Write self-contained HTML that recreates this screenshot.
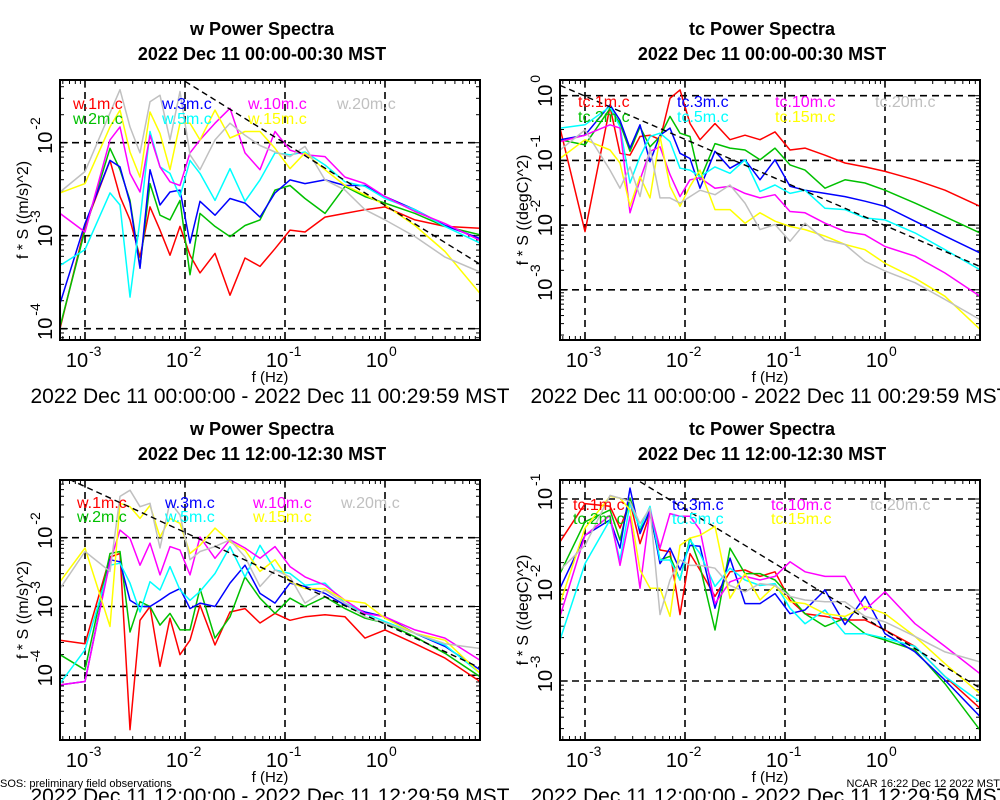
<!DOCTYPE html>
<html><head><meta charset="utf-8">
<style>
html,body{margin:0;padding:0;background:#fff;}
svg{display:block;font-family:"Liberation Sans",Arial,sans-serif;}
</style></head>
<body>
<svg id="chart" width="1000" height="800" viewBox="0 0 1000 800" xmlns="http://www.w3.org/2000/svg"></svg>
<script>
// shared log10 frequency bins (Hz)
const logFreq = [-3.25,-3.0,-2.75,-2.65,-2.55,-2.45,-2.35,-2.25,-2.15,-2.05,-1.95,-1.85,-1.7,-1.55,-1.4,-1.25,-1.1,-0.95,-0.8,-0.6,-0.4,-0.2,0,0.3,0.6,0.95];
const xTickExp = [-3,-2,-1,0];
const seriesColors = ["#ff0000","#00c000","#0000ff","#00ffff","#ff00ff","#ffff00","#c0c0c0"];
const heightsW = ["1m","2m","3m","5m","10m","15m","20m"];

// Panel 1: w 00:00 (log10 f*S)
const p1_1m = [-4.0,-2.9,-2.19,-2.58,-2.83,-3.23,-2.69,-2.94,-3.21,-2.9,-3.21,-3.4,-3.19,-3.64,-3.24,-3.33,-3.14,-2.94,-2.96,-2.8,-2.76,-2.72,-2.69,-2.83,-2.9,-2.92];
const p1_2m = [-3.98,-2.94,-2.06,-2.29,-2.62,-3.33,-2.44,-2.78,-2.83,-2.62,-3.42,-2.76,-2.9,-3.01,-2.89,-2.83,-2.51,-2.46,-2.6,-2.76,-2.47,-2.58,-2.65,-2.76,-2.9,-2.99];
const p1_3m = [-3.73,-2.87,-2.19,-2.26,-2.65,-3.35,-2.29,-2.67,-2.53,-2.51,-3.08,-2.63,-2.78,-2.6,-2.65,-2.8,-2.54,-2.4,-2.44,-2.4,-2.46,-2.46,-2.58,-2.72,-2.89,-3.03];
const p1_5m = [-3.32,-3.15,-2.54,-2.67,-3.66,-2.83,-1.88,-2.26,-2.33,-2.58,-2.19,-2.33,-2.62,-2.28,-2.63,-2.4,-2.11,-2.13,-2.1,-2.24,-2.42,-2.47,-2.6,-2.72,-2.9,-3.08];
const p1_10m = [-2.76,-2.96,-1.97,-1.83,-2.33,-2.53,-1.92,-2.26,-2.42,-2.46,-2.11,-1.97,-1.79,-1.63,-2.11,-2.29,-1.88,-2.08,-2.13,-2.15,-2.37,-2.44,-2.58,-2.74,-2.87,-3.05];
const p1_15m = [-2.54,-2.44,-1.83,-1.65,-2.1,-2.37,-1.67,-1.9,-2.29,-1.79,-1.79,-1.97,-1.65,-1.95,-1.88,-1.88,-2.06,-2.28,-2.11,-2.29,-2.46,-2.56,-2.67,-2.89,-3.17,-3.62];
const p1_20m = [-2.53,-2.31,-1.68,-1.43,-1.83,-2.11,-1.56,-1.49,-1.97,-1.45,-2.13,-2.29,-1.97,-1.79,-1.92,-2.03,-2.1,-2.15,-2.04,-2.4,-2.51,-2.72,-2.83,-3.01,-3.23,-3.39];

// Panel 2: tc 00:00
const p2_1m = [-0.5,-2.1,-0.17,-0.89,-0.92,-0.63,-0.61,-0.68,-0.04,0.09,-0.43,-0.68,-0.43,-0.68,-0.61,-0.68,-0.56,-0.84,-0.81,-0.92,-1.04,-1.1,-1.17,-1.3,-1.46,-1.71];
const p2_2m = [-0.68,-0.76,-0.2,-0.43,-0.86,-0.48,-0.79,-0.63,-0.32,-0.58,-0.63,-1.3,-0.74,-0.81,-0.84,-0.99,-0.81,-1.07,-1.15,-1.43,-1.3,-1.35,-1.46,-1.66,-1.87,-2.12];
const p2_3m = [-0.68,-0.61,-0.14,-0.38,-0.81,-0.45,-1.02,-0.61,-0.5,-0.89,-0.97,-1.43,-0.86,-1.12,-0.99,-1.3,-0.99,-1.4,-1.46,-1.51,-1.56,-1.63,-1.71,-1.94,-2.17,-2.43];
const p2_5m = [-0.5,-0.45,-0.17,-0.48,-1.35,-0.94,-0.63,-0.58,-0.71,-1.12,-1.15,-1.25,-1.1,-1.2,-0.99,-1.48,-1.38,-1.51,-1.46,-1.74,-1.76,-1.89,-1.92,-2.12,-2.38,-2.69];
const p2_10m = [-0.71,-0.61,-0.45,-0.5,-1.81,-1.3,-0.86,-0.79,-1.22,-1.56,-1.3,-1.27,-1.43,-1.4,-1.51,-1.58,-1.53,-1.79,-1.81,-1.97,-2.1,-2.15,-2.33,-2.48,-2.74,-3.1];
const p2_15m = [-0.97,-0.68,-0.84,-1.04,-1.71,-1.25,-1.58,-0.63,-1.4,-1.71,-1.4,-1.15,-1.76,-1.76,-1.97,-1.81,-1.94,-2.02,-2.07,-2.17,-2.3,-2.38,-2.59,-2.82,-3.1,-3.61];
const p2_20m = [-0.84,-0.53,-1.15,-1.43,-1.1,-1.56,-0.81,-1.58,-1.58,-1.66,-1.56,-1.46,-1.53,-1.38,-1.66,-2.07,-1.99,-2.25,-1.97,-2.23,-2.3,-2.56,-2.71,-2.89,-3.15,-3.46];

// Panel 3: w 12:00
const p3_1m = [-3.49,-3.54,-2.28,-2.23,-4.79,-3.2,-3.0,-3.87,-3.17,-3.7,-3.49,-2.98,-3.56,-3.08,-3.03,-3.24,-3.1,-3.2,-3.15,-3.12,-3.15,-3.46,-3.34,-3.54,-3.75,-4.09];
const p3_2m = [-3.7,-3.92,-2.23,-2.2,-3.37,-2.93,-3.0,-3.27,-3.1,-3.34,-3.34,-2.74,-3.46,-3.15,-2.57,-2.88,-3.1,-2.88,-3.0,-2.86,-3.03,-3.17,-3.24,-3.44,-3.68,-4.02];
const p3_3m = [-4.14,-4.09,-2.32,-2.35,-2.91,-3.0,-3.0,-2.91,-2.81,-2.74,-3.03,-2.95,-3.0,-2.66,-2.4,-2.81,-2.95,-2.66,-2.71,-2.81,-2.98,-3.08,-3.15,-3.39,-3.58,-3.92];
const p3_5m = [-4.12,-3.63,-2.4,-2.37,-2.66,-3.08,-2.64,-2.76,-2.42,-2.76,-2.91,-2.78,-2.52,-2.13,-2.57,-2.11,-2.47,-2.52,-2.69,-2.66,-2.95,-3.1,-3.22,-3.39,-3.56,-3.97];
const p3_10m = [-4.14,-4.09,-2.35,-1.89,-2.01,-2.4,-2.08,-2.54,-2.13,-2.18,-2.54,-1.99,-2.3,-2.03,-2.15,-2.3,-2.13,-2.42,-2.57,-2.69,-2.91,-3.1,-3.15,-3.34,-3.46,-3.78];
const p3_15m = [-2.64,-2.15,-3.29,-1.5,-1.55,-1.72,-1.53,-1.99,-1.72,-1.79,-2.23,-2.11,-1.86,-2.06,-2.18,-2.49,-2.32,-2.64,-2.74,-2.74,-2.91,-2.95,-3.17,-3.39,-3.49,-3.97];
const p3_20m = [-2.74,-2.2,-2.49,-1.4,-1.31,-1.55,-1.5,-2.15,-1.48,-1.67,-2.32,-2.2,-2.13,-2.03,-2.28,-2.71,-2.47,-2.57,-2.95,-2.76,-2.95,-3.15,-3.24,-3.39,-3.54,-3.61];

// Panel 4: tc 12:00
const p4_1m = [-1.47,-1.05,-1.08,-1.32,-1.03,-1.49,-1.16,-1.56,-1.58,-2.27,-1.6,-1.78,-2.07,-1.8,-1.78,-1.85,-1.8,-2.11,-2.26,-2.29,-2.33,-2.33,-2.44,-2.62,-2.95,-3.3];
const p4_2m = [-1.82,-1.25,-1.12,-1.45,-0.99,-1.34,-1.16,-1.67,-1.63,-1.89,-1.43,-1.74,-2.44,-1.54,-1.82,-1.82,-1.89,-2.07,-2.26,-2.4,-2.31,-2.48,-2.55,-2.66,-3.03,-3.54];
const p4_3m = [-1.98,-1.4,-1.23,-1.54,-0.88,-1.38,-1.12,-1.71,-1.54,-1.78,-1.51,-1.52,-2.2,-1.65,-2.15,-2.15,-2.04,-2.26,-2.22,-2.0,-2.38,-2.07,-2.48,-2.68,-2.99,-3.39];
const p4_5m = [-2.55,-1.71,-1.23,-1.67,-1.05,-1.32,-1.08,-1.67,-1.67,-1.89,-1.45,-1.6,-1.96,-1.76,-1.89,-1.95,-1.93,-2.2,-2.37,-2.22,-2.48,-2.48,-2.53,-2.62,-2.95,-3.23];
const p4_10m = [-2.29,-1.4,-1.18,-1.73,-1.19,-1.98,-1.12,-1.54,-1.16,-1.19,-1.19,-1.34,-2.15,-1.91,-1.85,-1.89,-1.85,-1.69,-1.8,-1.85,-1.85,-2.22,-2.02,-2.37,-2.62,-2.92];
const p4_15m = [-2.15,-1.32,-0.97,-0.99,-1.12,-1.78,-1.98,-1.98,-2.29,-1.51,-1.43,-1.4,-1.3,-2.09,-1.82,-2.11,-1.95,-2.13,-2.15,-2.26,-2.29,-2.18,-2.26,-2.51,-2.81,-3.14];
const p4_20m = [-1.78,-1.51,-0.96,-0.99,-1.03,-1.27,-1.1,-2.27,-1.89,-1.67,-1.73,-1.73,-1.76,-1.95,-2.02,-1.93,-1.95,-2.07,-2.11,-2.13,-2.13,-2.29,-2.35,-2.51,-2.68,-2.79];

// reference -2/3 slope lines: [start log f, log y at start]
const p1_ref = [-2.0,-1.34];
const p2_ref = [-3.25,0.16];
const p3_ref = [-3.25,-1.09];
const p4_ref = [-2.45,-0.81];
const refSlope = -2/3;

const panels = [
 {id:"w-am", v:"w", x0:60,x1:480,y0:80,y1:340, yRefLog:-2, yRefPx:142.7, pxDec:93, yTicks:[-2,-3,-4],
  title:"w Power Spectra", sub:"2022 Dec 11 00:00-00:30 MST", ylab:"f * S ((m/s)^2)",
  range:"2022 Dec 11 00:00:00 - 2022 Dec 11 00:29:59 MST", data:[p1_1m,p1_2m,p1_3m,p1_5m,p1_10m,p1_15m,p1_20m], ref:p1_ref,
  leg:[73,162,248,337], legY:[109,124]},
 {id:"tc-am", v:"tc", x0:560,x1:980,y0:80,y1:340, yRefLog:0, yRefPx:95.7, pxDec:64.7, yTicks:[0,-1,-2,-3],
  title:"tc Power Spectra", sub:"2022 Dec 11 00:00-00:30 MST", ylab:"f * S ((degC)^2)",
  range:"2022 Dec 11 00:00:00 - 2022 Dec 11 00:29:59 MST", data:[p2_1m,p2_2m,p2_3m,p2_5m,p2_10m,p2_15m,p2_20m], ref:p2_ref,
  leg:[578,677,775,875], legY:[107,122]},
 {id:"w-pm", v:"w", x0:60,x1:480,y0:480,y1:740, yRefLog:-2, yRefPx:537.7, pxDec:68.8, yTicks:[-2,-3,-4],
  title:"w Power Spectra", sub:"2022 Dec 11 12:00-12:30 MST", ylab:"f * S ((m/s)^2)",
  range:"2022 Dec 11 12:00:00 - 2022 Dec 11 12:29:59 MST", data:[p3_1m,p3_2m,p3_3m,p3_5m,p3_10m,p3_15m,p3_20m], ref:p3_ref,
  leg:[77,165,253,341], legY:[508,522]},
 {id:"tc-pm", v:"tc", x0:560,x1:980,y0:480,y1:740, yRefLog:-1, yRefPx:499, pxDec:91, yTicks:[-1,-2,-3],
  title:"tc Power Spectra", sub:"2022 Dec 11 12:00-12:30 MST", ylab:"f * S ((degC)^2)",
  range:"2022 Dec 11 12:00:00 - 2022 Dec 11 12:29:59 MST", data:[p4_1m,p4_2m,p4_3m,p4_5m,p4_10m,p4_15m,p4_20m], ref:p4_ref,
  leg:[573,672,771,870], legY:[510,524]}
];

const NS="http://www.w3.org/2000/svg";
const svg=document.getElementById("chart");
function mk(tag,attrs,parent){const e=document.createElementNS(NS,tag);for(const k in attrs)e.setAttribute(k,attrs[k]);(parent||svg).appendChild(e);return e;}

const lfMin=-3.25, lfMax=0.95;
panels.forEach((p,pi)=>{
  const g=mk("g",{});
  
  
  const xs=lf=>p.x0+(lf-lfMin)/(lfMax-lfMin)*(p.x1-p.x0);
  const ys=ly=>p.yRefPx-(ly-p.yRefLog)*p.pxDec;
  const yTop=p.yRefLog+(p.yRefPx-p.y0)/p.pxDec, yBot=p.yRefLog-(p.y1-p.yRefPx)/p.pxDec;
  const cx=(p.x0+p.x1)/2;
  let t=mk("text",{x:cx-8,y:p.y0-45,"text-anchor":"middle","font-size":"18","font-weight":"bold"},g);t.textContent=p.title;
  
  t=mk("text",{x:cx-8,y:p.y0-20,"text-anchor":"middle","font-size":"18","font-weight":"bold"},g);t.textContent=p.sub;
  
  const cp=mk("clipPath",{id:"clip"+pi},g);mk("rect",{x:p.x0,y:p.y0,width:p.x1-p.x0,height:p.y1-p.y0},cp);
  const grid=mk("g",{stroke:"#000","stroke-width":"1.6","stroke-dasharray":"7,5",fill:"none"},g);
  
  xTickExp.forEach(e=>{mk("line",{x1:xs(e),x2:xs(e),y1:p.y0,y2:p.y1},grid);});
  p.yTicks.forEach(e=>{mk("line",{x1:p.x0,x2:p.x1,y1:ys(e),y2:ys(e)},grid);});
  const tk=mk("g",{stroke:"#000","stroke-width":"1"},g);
  
  for(let d=-4;d<=1;d++)for(let m=1;m<10;m++){const lf=d+Math.log10(m);if(lf<lfMin||lf>lfMax)continue;const x=xs(lf),L=m===1?8:4;
    mk("line",{x1:x,x2:x,y1:p.y1,y2:p.y1-L},tk);mk("line",{x1:x,x2:x,y1:p.y0,y2:p.y0+L},tk);}
  for(let d=-6;d<=1;d++)for(let m=1;m<10;m++){const ly=d+Math.log10(m);if(ly<yBot||ly>yTop)continue;const y=ys(ly),L=m===1?8:4;
    mk("line",{x1:p.x0,x2:p.x0+L,y1:y,y2:y},tk);mk("line",{x1:p.x1,x2:p.x1-L,y1:y,y2:y},tk);}
  const sg=mk("g",{"clip-path":"url(#clip"+pi+")",fill:"none","stroke-width":"1.5","stroke-linejoin":"round"},g);
  p.data.forEach((arr,si)=>{
    const d=arr.map((v,i)=>(i?"L":"M")+xs(logFreq[i]).toFixed(1)+","+ys(v).toFixed(1)).join("");
    const path=mk("path",{d:d,stroke:seriesColors[si]},sg);
    
    
  });
  const r0=p.ref[0], r1=lfMax;
  const rl=mk("line",{x1:xs(r0),y1:ys(p.ref[1]),x2:xs(r1),y2:ys(p.ref[1]+refSlope*(r1-r0)),stroke:"#000","stroke-width":"1.4","stroke-dasharray":"6,4"},sg);
  
  const fr=mk("rect",{x:p.x0,y:p.y0,width:p.x1-p.x0,height:p.y1-p.y0,fill:"none",stroke:"#000","stroke-width":"2"},g);
  
  const labels=[[0,2,4,6],[1,3,5]];
  labels.forEach((row,ri)=>row.forEach((si,ci)=>{
    const lt=mk("text",{x:p.leg[ci],y:p.legY[ri],"font-size":"16",fill:seriesColors[si]},g);
    lt.textContent=p.v+"."+heightsW[si]+".c";
    
  }));
  xTickExp.forEach(e=>{
    const xt=mk("text",{x:xs(e)-8,y:p.y1+27,"text-anchor":"middle","font-size":"20"},g);
    xt.textContent="10";
    
    const sup=mk("text",{x:xs(e)+4,y:p.y1+16,"font-size":"14"},g);sup.textContent=String(e);
  });
  p.yTicks.forEach(e=>{
    const y=ys(e);
    const yt=mk("text",{transform:"translate("+(p.x0-8)+","+y+") rotate(-90)","text-anchor":"middle","font-size":"20"},g);
    yt.textContent="10";
    
    const sup=mk("text",{transform:"translate("+(p.x0-20)+","+(y-13)+") rotate(-90)","font-size":"14"},g);sup.textContent=String(e);
  });
  let xa=mk("text",{x:cx,y:p.y1+42,"text-anchor":"middle","font-size":"15"},g);xa.textContent="f (Hz)";
  
  let ya=mk("text",{transform:"translate("+(p.x0-32)+","+((p.y0+p.y1)/2)+") rotate(-90)","text-anchor":"middle","font-size":"16"},g);ya.textContent=p.ylab;
  
  let rt=mk("text",{x:cx,y:p.y1+63,"text-anchor":"middle","font-size":"21"},g);rt.textContent=p.range;
  
});
let f1=mk("text",{x:0,y:787,"font-size":"11"});f1.textContent="SOS: preliminary field observations";

let f2=mk("text",{x:1000,y:787,"font-size":"11","text-anchor":"end"});f2.textContent="NCAR 16:22 Dec 12 2022 MST";

</script>
</body></html>
